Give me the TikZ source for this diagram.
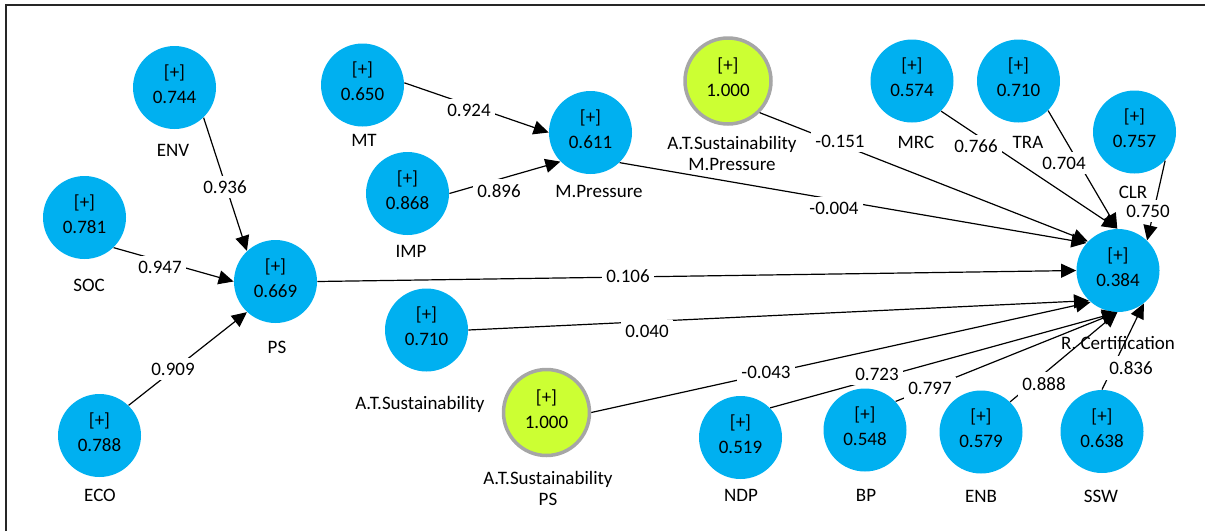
\documentclass[tikz,border=0pt]{standalone}
\usepackage{fontspec}
\setmainfont{Carlito}
\usetikzlibrary{arrows.meta}
\definecolor{lvblue}{RGB}{0,176,240}
\definecolor{lvgreen}{RGB}{204,255,51}
\definecolor{lvgray}{RGB}{166,166,166}
\begin{document}
\begin{tikzpicture}[x=0.5pt,y=-0.5pt,>={Triangle[length=7.5pt,width=7pt]},
  lv/.style={circle,fill=lvblue,minimum size=41.5pt,inner sep=0pt,align=center,
    text depth=3.5pt,font=\fontsize{9.5pt}{12.5pt}\selectfont},
  lvmod/.style={lv,fill=lvgreen,draw=lvgray,line width=1.75pt,minimum size=43pt},
  lvname/.style={inner sep=0pt,align=center,font=\fontsize{9.5pt}{10.5pt}\selectfont},
  coef/.style={fill=white,inner xsep=2pt,inner ysep=2.5pt,font=\fontsize{9.5pt}{11pt}\selectfont},
  plslink/.style={->,line width=0.6pt}]
\useasboundingbox (0,0) rectangle (1205,531);
\draw[line width=0.75pt,black!85] (6,531) -- (6,5) -- (1205,5);

\node[lv] (ENV) at (174.5,87.5) {[+]\\0.744};
\node[lv] (SOC) at (84.5,217.5) {[+]\\0.781};
\node[lv] (ECO) at (99.5,435.5) {[+]\\0.788};
\node[lv] (PS) at (275.5,281.5) {[+]\\0.669};
\node[lv] (MT) at (362.5,85) {[+]\\0.650};
\node[lv] (IMP) at (407.5,193.5) {[+]\\0.868};
\node[lv] (MP) at (590.5,132.5) {[+]\\0.611};
\node[lvmod] (ATSMP) at (728,81) {[+]\\1.000};
\node[lv] (ATS) at (426.5,330) {[+]\\0.710};
\node[lvmod] (ATSPS) at (546.5,412.5) {[+]\\1.000};
\node[lv] (NDP) at (740.5,437.5) {[+]\\0.519};
\node[lv] (BP) at (865,430) {[+]\\0.548};
\node[lv] (ENB) at (981,432) {[+]\\0.579};
\node[lv] (SSW) at (1102,431.5) {[+]\\0.638};
\node[lv] (MRC) at (912,81) {[+]\\0.574};
\node[lv] (TRA) at (1018.5,81) {[+]\\0.710};
\node[lv] (CLR) at (1134.5,132) {[+]\\0.757};
\node[lv] (RC) at (1118,270.5) {[+]\\0.384};

\node[lvname] (ENVl) at (173,150) {ENV};
\node[lvname] (SOCl) at (89,285) {SOC};
\node[lvname] (ECOl) at (100,495) {ECO};
\node[lvname] (PSl) at (277,347) {PS};
\node[lvname] (MTl) at (364,140) {MT};
\node[lvname] (IMPl) at (411,251) {IMP};
\node[lvname] (MPl) at (599,191) {M.Pressure};
\node[lvname] (ATSMPl) at (732,153) {A.T.Sustainability\\M.Pressure};
\node[lvname] (ATSl) at (420,404) {A.T.Sustainability};
\node[lvname] (ATSPSl) at (548,488) {A.T.Sustainability\\PS};
\node[lvname] (NDPl) at (741,495) {NDP};
\node[lvname] (BPl) at (866,495) {BP};
\node[lvname] (ENBl) at (981,496) {ENB};
\node[lvname] (SSWl) at (1101,496) {SSW};
\node[lvname] (MRCl) at (916,142) {MRC};
\node[lvname] (TRAl) at (1028,142) {TRA};
\node[lvname] (CLRl) at (1133,192) {CLR};
\node[lvname] (RCl) at (1118,343) {R. Certification};

\draw[plslink] (ENV.-46) -- (PS.133);
\draw[plslink] (SOC.-46) -- (PS.180);
\draw[plslink] (ECO.46) -- (PS.-133);
\draw[plslink] (MT.3) -- (MP.180);
\draw[plslink] (IMP.0) -- (MP.-136);
\draw[plslink] (ATSMP.-45) -- (RC.136);
\draw[plslink] (MP.-46) -- (RC.139);
\draw[plslink] (MRC.-46) -- (RC.91);
\draw[plslink] (TRA.-45) -- (RC.91);
\draw[plslink] (CLR.-43) -- (RC.46);
\draw[plslink] (PS.0) -- (RC.180);
\draw[plslink] (ATS.0) -- (RC.-134);
\draw[plslink] (ATSPS.0) -- (RC.-131);
\draw[plslink] (NDP.45) -- (RC.-91);
\draw[plslink] (BP.43) -- (RC.-91);
\draw[plslink] (ENB.46) -- (RC.-91);
\draw[plslink] (SSW.90) -- (RC.-52);

\node[coef] (wENV) at (225,187) {0.936};
\node[coef] (wSOC) at (160,267) {0.947};
\node[coef] (wECO) at (173,369) {0.909};
\node[coef] (wMT) at (469,110) {0.924};
\node[coef] (wIMP) at (499,191) {0.896};
\node[coef] (wATSMP) at (840,141) {-0.151};
\node[coef] (wMP) at (834,208) {-0.004};
\node[coef] (wMRC) at (976,146) {0.766};
\node[coef] (wTRA) at (1064,163) {0.704};
\node[coef] (wCLR) at (1148,211) {0.750};
\node[coef] (wPS) at (628,276) {0.106};
\node[coef] (wATS) at (647,331) {0.040};
\node[coef] (wATSPS) at (766,372) {-0.043};
\node[coef] (wNDP) at (877,374) {0.723};
\node[coef] (wBP) at (930,388) {0.797};
\node[coef] (wENB) at (1044,384) {0.888};
\node[coef] (wSSW) at (1131,368) {0.836};
\end{tikzpicture}
\end{document}
